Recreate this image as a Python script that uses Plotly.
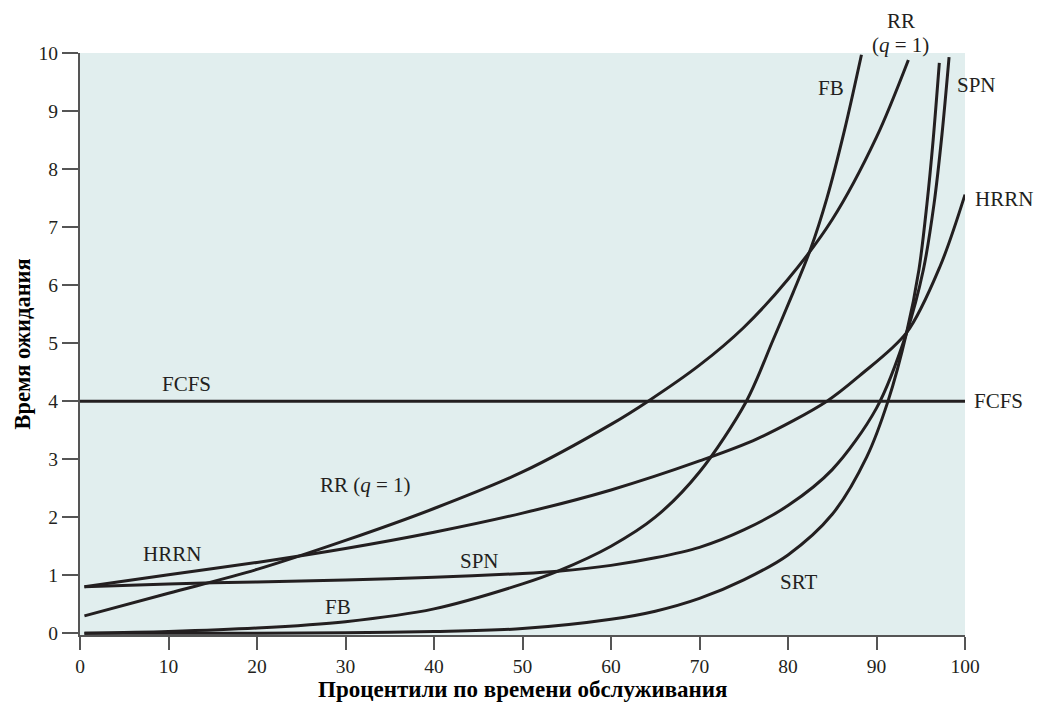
import plotly.graph_objects as go

# waiting time vs service-time percentile, one list pair per policy
fcfs_x = [0, 100]
fcfs_y = [4.0, 4.0]

rr_x = [0.5, 10, 20, 30, 40, 50, 60, 64.2, 70, 75, 80, 85, 90, 93.6]
rr_y = [0.3, 0.69, 1.1, 1.6, 2.15, 2.78, 3.6, 4.0, 4.62, 5.27, 6.1, 7.13, 8.55, 9.88]

hrrn_x = [0.5, 10, 20, 30, 40, 50, 60, 70, 76.5, 84.4, 88.1, 93.4, 97.2, 100]
hrrn_y = [0.8, 1.01, 1.22, 1.46, 1.74, 2.07, 2.47, 2.97, 3.35, 4.0, 4.44, 5.18, 6.33, 7.56]

spn_x = [0.5, 10, 20, 30, 40, 50, 54, 60, 65, 70, 75, 80, 85, 90, 93.4, 95.3, 96.5, 97.4, 98.2]
spn_y = [0.8, 0.85, 0.885, 0.92, 0.965, 1.03, 1.07, 1.17, 1.3, 1.48, 1.78, 2.2, 2.82, 3.88, 5.18, 6.27, 7.4, 8.6, 9.93]

srt_x = [0.5, 10, 20, 30, 40, 50, 60, 65, 70, 75, 80, 85, 88.9, 91.3, 93.4, 94.8, 95.7, 96.4, 97.1]
srt_y = [0.0, 0.0, 0.0, 0.01, 0.03, 0.08, 0.24, 0.38, 0.6, 0.92, 1.35, 2.05, 3.04, 4.0, 5.18, 6.27, 7.4, 8.5, 9.83]

fb_x = [0.5, 10, 20, 30, 40, 50, 54, 60, 65, 70, 75.3, 78.3, 80.6, 82.5, 84.4, 86.4, 88.3]
fb_y = [0.0, 0.03, 0.09, 0.2, 0.42, 0.85, 1.07, 1.5, 2.0, 2.78, 4.0, 5.05, 5.88, 6.6, 7.5, 8.68, 9.97]

# curve labels: text, x, y, anchor
labels = [
    ("FCFS", 12.0, 4.29, "center"),
    ("FCFS", 100.8, 4.0, "left"),
    ("RR (<i>q</i> = 1)", 32.3, 2.55, "center"),
    ("HRRN", 10.45, 1.37, "center"),
    ("SPN", 45.1, 1.25, "center"),
    ("FB", 29.2, 0.45, "center"),
    ("SRT", 81.2, 0.89, "center"),
    ("FB", 84.9, 9.4, "center"),
    ("SPN", 98.9, 9.45, "left"),
    ("HRRN", 100.9, 7.49, "left"),
    ("RR", 92.8, 10.55, "center"),
    ("(<i>q</i> = 1)", 92.75, 10.14, "center"),
]

x_range = [0, 100]
y_range = [-0.03, 10]

ink = "#231f20"
serif = "Liberation Serif"

fig = go.Figure()
series = [(fcfs_x, fcfs_y, "linear"), (rr_x, rr_y, "spline"), (hrrn_x, hrrn_y, "spline"),
          (spn_x, spn_y, "spline"), (srt_x, srt_y, "spline"), (fb_x, fb_y, "spline")]
for xs, ys, shape in series:
    fig.add_trace(go.Scatter(x=xs, y=ys, mode="lines",
                             line=dict(color=ink, width=3, shape=shape, smoothing=0.9),
                             showlegend=False, hoverinfo="skip"))

# plotly hides data-referenced annotations outside the axis range,
# so labels beyond the frame are placed in paper coordinates instead
for text, x, y, anchor in labels:
    xref, yref = "x", "y"
    if x > x_range[1]:
        xref, x = "paper", (x - x_range[0]) / (x_range[1] - x_range[0])
    if y > y_range[1]:
        yref, y = "paper", (y - y_range[0]) / (y_range[1] - y_range[0])
    fig.add_annotation(x=x, y=y, xref=xref, yref=yref, text=text, showarrow=False,
                       xanchor=anchor, yanchor="middle",
                       font=dict(family=serif, size=21, color=ink))

# axis titles as paper annotations so they sit where the original puts them
fig.add_annotation(xref="paper", yref="paper", x=0.5, y=-0.0945, yanchor="middle",
                   text="<b>Процентили по времени обслуживания</b>", showarrow=False,
                   font=dict(family=serif, size=23, color="black"))
fig.add_annotation(xref="paper", yref="paper", x=-0.066, y=0.5, xanchor="center",
                   yanchor="middle", textangle=-90, text="<b>Время ожидания</b>",
                   showarrow=False, font=dict(family=serif, size=22.5, color="black"))

# page body has an 8px margin, so the figure is drawn 16px smaller
fig.update_layout(
    width=1027, height=696,
    margin=dict(l=72, r=70, t=45, b=69),
    paper_bgcolor="white",
    plot_bgcolor="#e1eeee",
    font=dict(family=serif, size=19.5, color=ink),
)
fig.update_xaxes(range=x_range, tickvals=list(range(0, 101, 10)), showgrid=False, zeroline=False,
                 showline=True, linecolor="#555555", linewidth=2, automargin=False,
                 ticks="outside", ticklen=13, tickwidth=2, tickcolor="#555555")
fig.update_yaxes(range=y_range, tickvals=list(range(0, 11)), showgrid=False, zeroline=False,
                 showline=True, linecolor="#555555", linewidth=2, automargin=False,
                 ticks="outside", ticklen=16, tickwidth=2, tickcolor="#555555")

fig.write_html("out.html")
